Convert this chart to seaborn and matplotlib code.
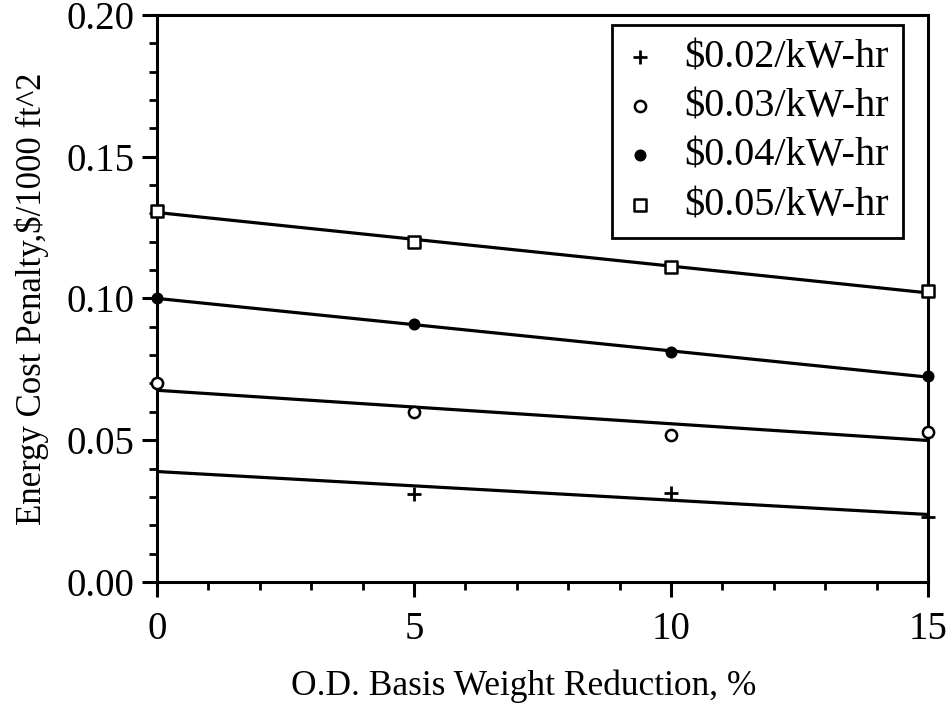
import numpy as np
import pandas as pd
import matplotlib
matplotlib.use("Agg")
import matplotlib.pyplot as plt
import seaborn as sns
from matplotlib.ticker import MultipleLocator, FormatStrFormatter

# Basis weight reduction (%) and energy cost penalty ($/1000 ft^2) per power price
reduction = [0, 5, 10, 15]
rate_labels = ["$0.02/kW-hr", "$0.03/kW-hr", "$0.04/kW-hr", "$0.05/kW-hr"]
cost_002 = [0.040, 0.031, 0.0315, 0.023]
cost_003 = [0.070, 0.060, 0.052, 0.053]
cost_004 = [0.100, 0.091, 0.081, 0.0725]
cost_005 = [0.131, 0.120, 0.111, 0.1025]

series = [cost_002, cost_003, cost_004, cost_005]
marker_styles = [
    dict(marker="+", s=90, color="black", linewidth=2.0),
    dict(marker="o", s=65, facecolor="white", edgecolor="black", linewidth=1.8),
    dict(marker="o", s=75, color="black", linewidth=0),
    dict(marker="s", s=65, facecolor="white", edgecolor="black", linewidth=1.8),
]

sns.set_theme(style="ticks")
plt.rcParams["font.family"] = ["Liberation Serif", "DejaVu Serif"]
plt.rcParams["text.color"] = "black"
plt.rcParams["axes.labelcolor"] = "black"
plt.rcParams["xtick.color"] = "black"
plt.rcParams["ytick.color"] = "black"

fig = plt.figure(figsize=(9.49, 7.08), dpi=100)
ax = fig.add_axes([0.1654, 0.178, 0.8125, 0.801])

frames = []
for label, values in zip(rate_labels, series):
    frames.append(pd.DataFrame({"reduction": reduction, "cost": values, "rate": label}))
df = pd.concat(frames, ignore_index=True)

handles = []
for label, style in zip(rate_labels, marker_styles):
    sub = df[df["rate"] == label]
    # least-squares trend line through each price series
    slope, intercept = np.polyfit(sub["reduction"], sub["cost"], 1)
    xs = np.array([reduction[0], reduction[-1]], dtype=float)
    fit = pd.DataFrame({"reduction": xs, "cost": intercept + slope * xs})
    sns.lineplot(data=fit, x="reduction", y="cost", ax=ax, color="black",
                 linewidth=2.3, legend=False)
    pts = sub
    if style["marker"] == "+":
        pts = sub[sub["reduction"] > 0]
    sns.scatterplot(data=pts, x="reduction", y="cost", ax=ax, clip_on=False,
                    zorder=4, legend=False, **style)
    handles.append(ax.collections[-1])

ax.set_xlim(0, 15)
ax.set_ylim(0, 0.20)
ax.xaxis.set_major_locator(MultipleLocator(5))
ax.xaxis.set_minor_locator(MultipleLocator(1))
ax.yaxis.set_major_locator(MultipleLocator(0.05))
ax.yaxis.set_minor_locator(MultipleLocator(0.01))
ax.yaxis.set_major_formatter(FormatStrFormatter("%.2f"))

for side in ["left", "right", "top", "bottom"]:
    ax.spines[side].set_visible(True)
    ax.spines[side].set_color("black")
    ax.spines[side].set_linewidth(2.2)

ax.tick_params(axis="both", which="major", direction="out", length=11, width=2.2,
               labelsize=28, pad=5, top=False, right=False)
ax.tick_params(axis="both", which="minor", direction="out", length=6, width=2.0,
               top=False, right=False)
ax.tick_params(axis="x", which="major", pad=10)

ax.set_xlabel("O.D. Basis Weight Reduction, %", fontsize=25.5, labelpad=16)
ax.xaxis.set_label_coords(0.475, -0.155)
ax.set_ylabel("Energy Cost Penalty,\\$/1000 ft^2", fontsize=25, labelpad=13)

legend_labels = [lbl.replace("$", "\\$") for lbl in rate_labels]
leg = ax.legend(handles, legend_labels, loc="upper right", fontsize=29,
                frameon=True, fancybox=False, framealpha=1, edgecolor="black",
                borderpad=0.35, labelspacing=0.3, handletextpad=0.75,
                handlelength=0.7, borderaxespad=0,
                bbox_to_anchor=(0.9676, 0.982))
leg.get_frame().set_linewidth(2.0)

fig.savefig("out.png", dpi=100, facecolor="white")
